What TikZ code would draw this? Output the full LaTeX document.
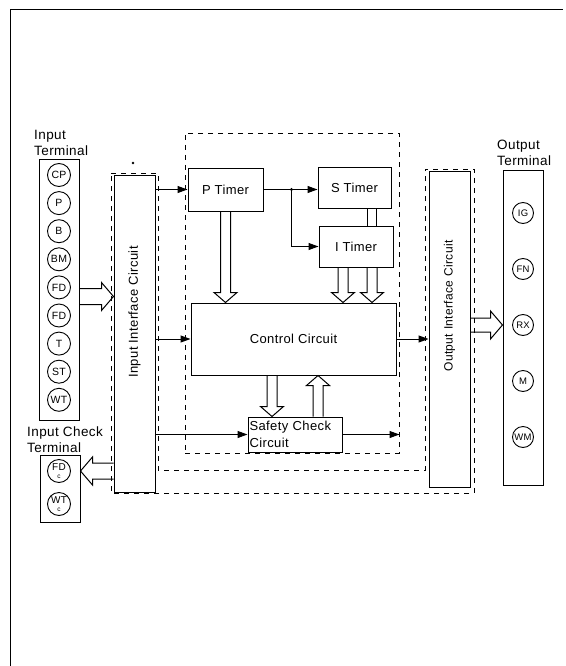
\documentclass[tikz,border=0pt]{standalone}
\usepackage{fontspec}
\setmainfont{Liberation Sans}[LetterSpace=3]
\usetikzlibrary{arrows.meta,calc}
\tikzset{
  blk/.style={draw,line width=1pt,inner sep=0pt,font=\fontsize{13}{17}\selectfont},
  term/.style={draw,circle,line width=0.9pt,minimum size=23pt,inner sep=0pt,
               font=\fontsize{10.5}{10}\selectfont},
  oterm/.style={term,minimum size=21pt,font=\fontsize{9.5}{9}\selectfont},
  lbl/.style={font=\fontsize{13.5}{16}\selectfont,align=left,inner sep=0pt},
  ln/.style={-{Triangle[length=10pt,width=7pt]},line width=1pt},
  dsh/.style={dash pattern=on 5pt off 5pt,line width=1pt},
  hol/.style n args={3}{line width=1pt,to path={
      ($(\tikztotarget)!#3!(\tikztostart)$) coordinate (hb)
      ($(\tikztostart)!#1!90:(\tikztotarget)$) -- ($(hb)!#1!90:(\tikztotarget)$)
      -- ($(hb)!#2!90:(\tikztotarget)$) -- (\tikztotarget)
      -- ($(hb)!#2!-90:(\tikztotarget)$) -- ($(hb)!#1!-90:(\tikztotarget)$)
      -- ($(\tikztostart)!#1!-90:(\tikztotarget)$)}},
}

\begin{document}
\begin{tikzpicture}[x=1pt,y=-1pt]
\useasboundingbox (0,0) rectangle (565,666);
\draw[line width=0.8pt] (10,666) -- (10,9) -- (563,9);

% terminals on the left
\node[blk,minimum width=40pt,minimum height=261pt] (intm) at (59,289.5) {};
\node[lbl,anchor=south west] (intlbl) at (34,156) {Input\\Terminal};
\foreach \s [count=\i from 0] in {CP,P,B,BM,FD,FD,T,ST,WT}
  \node[term] (in\i) at (59,{175+28.1*\i}) {\s};

\node[blk,minimum width=40pt,minimum height=67pt] (chk) at (60,488.5) {};
\node[lbl,anchor=south west] (chklbl) at (27,453) {Input Check\\Terminal};
\node[term,align=center,font=\fontsize{10}{9}\selectfont] (fdc) at (59,471) {FD\\[-1pt]{\fontsize{6.5}{6}\selectfont c}};
\node[term,align=center,font=\fontsize{10}{9}\selectfont] (wtc) at (59,504) {WT\\[-1pt]{\fontsize{6.5}{6}\selectfont c}};

% interface circuits
\node[blk,minimum width=41pt,minimum height=317pt] (iic) at (134.5,333.5) {};
\node[rotate=90,font=\fontsize{13}{15}\selectfont] (iiclbl) at (134.5,312) {Input Interface Circuit};
\node[blk,minimum width=41pt,minimum height=316pt] (oic) at (449.5,329) {};
\node[rotate=90,font=\fontsize{12}{14}\selectfont] (oiclbl) at (449.5,306) {Output Interface Circuit};
\fill (133,163) circle (1.3pt);

% terminals on the right
\node[blk,minimum width=40pt,minimum height=315pt] (otm) at (523,327.5) {};
\node[lbl,anchor=south west] (otmlbl) at (497,166) {Output\\Terminal};
\foreach \s [count=\i from 0] in {IG,FN,RX,M,WM}
  \node[oterm] (out\i) at (523,{213+56*\i}) {\s};

% timers and control
\node[blk,minimum width=75pt,minimum height=43pt] (ptim) at (225.5,189.5) {P Timer};
\node[blk,minimum width=73pt,minimum height=41pt] (stim) at (354.5,187.5) {S Timer};
\node[blk,minimum width=74pt,minimum height=41pt] (itim) at (356,246.5) {I Timer};
\node[blk,minimum width=205pt,minimum height=72pt] (ctrl) at (293.5,339) {Control Circuit};
\node[blk,minimum width=94pt,minimum height=35pt,align=left,text width=91pt] (safe) at (295,434.5) {Safety Check\\Circuit};

\node[dsh,draw,inner sep=0pt,minimum width=214pt,minimum height=320pt] (grp) at (292,293) {};
\draw[dsh] (111,173) -- (158,173) -- (158,470) -- (425,470) -- (425,169)
  -- (474,169) -- (474,493) -- (111,493) -- cycle;

\draw[ln] (ptim.west -| iic.east) -- (ptim.west);
\draw[ln] (ctrl.west -| iic.east) -- (ctrl.west);
\draw[ln] (safe.west -| iic.east) -- (safe.west);
\draw[ln] (ptim.east) -- (ptim.east -| stim.west);
\coordinate (jn) at ($(ptim.east)!0.52!(ptim.east -| stim.west)$);
\fill (jn) circle (1.6pt);
\draw[ln] (jn) |- (itim.west);
\draw[ln] (ctrl.east) -- (ctrl.east -| oic.west);
\draw[ln] (safe.east) -- (safe.east -| grp.east);

\draw[line width=1pt,double,double distance=8pt] ([xshift=17.5pt]stim.south) -- ([xshift=17.5pt]stim.south |- itim.north);

\draw[hol={5pt}{11.5pt}{10pt}] (ptim.south) to (ptim.south |- ctrl.north);
\draw[hol={5pt}{11.5pt}{10pt}] ([xshift=-13pt]itim.south) to ([xshift=-13pt]itim.south |- ctrl.north);
\draw[hol={5pt}{11.5pt}{10pt}] ([xshift=16pt]itim.south) to ([xshift=16pt]itim.south |- ctrl.north);
\draw[hol={5pt}{11.5pt}{10pt}] ([xshift=-23pt]safe.north |- ctrl.south) to ([xshift=-23pt]safe.north);
\draw[hol={5pt}{11.5pt}{10pt}] ([xshift=23pt]safe.north) to ([xshift=23pt]safe.north |- ctrl.south);
\draw[hol={8pt}{14pt}{12pt}] ([yshift=-7pt]intm.east) to ([yshift=-7pt]intm.east -| iic.west);
\draw[hol={8pt}{14pt}{12pt}] (fdc -| iic.west) to (fdc -| chk.east);
\draw[hol={7pt}{14pt}{12pt}] (out2 -| oic.east) to (out2 -| otm.west);

\end{tikzpicture}
\end{document}
